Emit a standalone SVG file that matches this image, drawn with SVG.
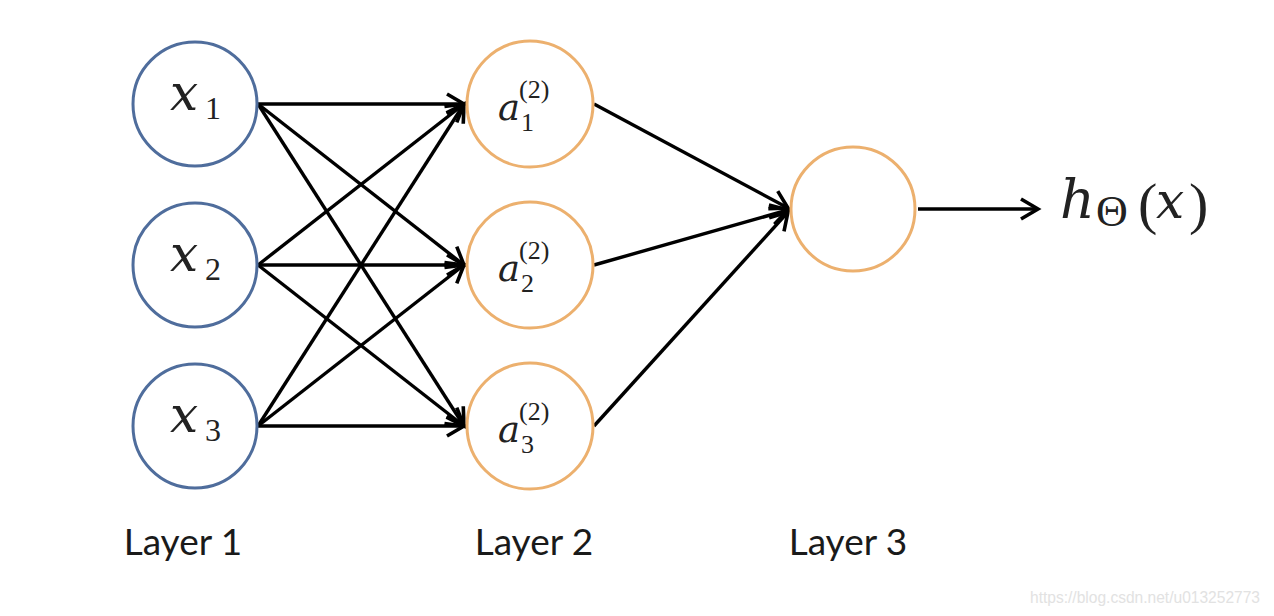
<svg xmlns="http://www.w3.org/2000/svg" width="1274" height="616" viewBox="0 0 1274 616">
<style>
.in{fill:#fff;stroke:#4f6d9c;stroke-width:3}
.hid{fill:#fff;stroke:#ecb06e;stroke-width:3}
.m{font-family:"Liberation Serif","DejaVu Serif",serif;fill:#222}
.it{font-family:"DejaVu Serif","Liberation Serif",serif;font-style:italic;fill:#222}
.lab{font-family:Lato,"Open Sans",sans-serif;font-size:37px;fill:#1a1a1a;text-anchor:middle}
.wm{font-family:"Liberation Sans",Arial,sans-serif;font-size:16px;fill:#e2e2e2}
.c{stroke:#000;stroke-width:3.4;fill:none;marker-end:url(#arr)}
</style>
<defs>
<marker id="arr" viewBox="-22 -14 26 28" refX="0" refY="0" markerWidth="26" markerHeight="28" markerUnits="userSpaceOnUse" orient="auto">
<path d="M-17,-10 L0,0 L-17,10" fill="none" stroke="#000" stroke-width="3.6" stroke-linejoin="miter"/>
</marker>
</defs>
<rect width="1274" height="616" fill="#fff"/>
<g id="connectors">
<line class="c" x1="258" y1="104" x2="464" y2="104"/>
<line class="c" x1="258" y1="104" x2="464" y2="265"/>
<line class="c" x1="258" y1="104" x2="464" y2="426"/>
<line class="c" x1="258" y1="265" x2="464" y2="104"/>
<line class="c" x1="258" y1="265" x2="464" y2="265"/>
<line class="c" x1="258" y1="265" x2="464" y2="426"/>
<line class="c" x1="258" y1="426" x2="464" y2="104"/>
<line class="c" x1="258" y1="426" x2="464" y2="265"/>
<line class="c" x1="258" y1="426" x2="464" y2="426"/>
<line class="c" x1="594" y1="104" x2="788" y2="208"/>
<line class="c" x1="594" y1="265" x2="788" y2="210"/>
<line class="c" x1="594" y1="426" x2="788" y2="212"/>
<line class="c" x1="918" y1="209" x2="1038" y2="209"/>
</g>
<g id="x1">
<circle class="in" cx="195" cy="104" r="62"/>
<text class="it" x="170" y="110" font-size="50">x</text>
<text class="m" x="205" y="119" font-size="32">1</text>
</g>
<g id="x2">
<circle class="in" cx="195" cy="265" r="62"/>
<text class="it" x="170" y="271" font-size="50">x</text>
<text class="m" x="205" y="280" font-size="32">2</text>
</g>
<g id="x3">
<circle class="in" cx="195" cy="426" r="62"/>
<text class="it" x="170" y="432" font-size="50">x</text>
<text class="m" x="205" y="441" font-size="32">3</text>
</g>
<g id="a1">
<circle class="hid" cx="530" cy="104" r="63"/>
<text class="it" x="498" y="120" font-size="37">a</text>
<text class="m" x="519" y="98" font-size="26">(2)</text>
<text class="m" x="521" y="131" font-size="26">1</text>
</g>
<g id="a2">
<circle class="hid" cx="530" cy="265" r="63"/>
<text class="it" x="498" y="281" font-size="37">a</text>
<text class="m" x="519" y="259" font-size="26">(2)</text>
<text class="m" x="521" y="292" font-size="26">2</text>
</g>
<g id="a3">
<circle class="hid" cx="530" cy="426" r="63"/>
<text class="it" x="498" y="442" font-size="37">a</text>
<text class="m" x="519" y="420" font-size="26">(2)</text>
<text class="m" x="521" y="453" font-size="26">3</text>
</g>
<g id="out">
<circle class="hid" cx="853" cy="209" r="62"/>
</g>
<g id="hx">
<text class="it" x="1060" y="218" font-size="54">h</text>
<text class="m" x="1096" y="226" font-size="44">Θ</text>
<text class="m" x="1138" y="223" font-size="58">(</text>
<text class="it" x="1156" y="218" font-size="50">x</text>
<text class="m" x="1189" y="223" font-size="58">)</text>
</g>
<text class="lab" x="183" y="555">Layer 1</text>
<text class="lab" x="534" y="555">Layer 2</text>
<text class="lab" x="848" y="555">Layer 3</text>
<text class="wm" x="1030" y="603" textLength="230" lengthAdjust="spacingAndGlyphs">https://blog.csdn.net/u013252773</text>
</svg>
